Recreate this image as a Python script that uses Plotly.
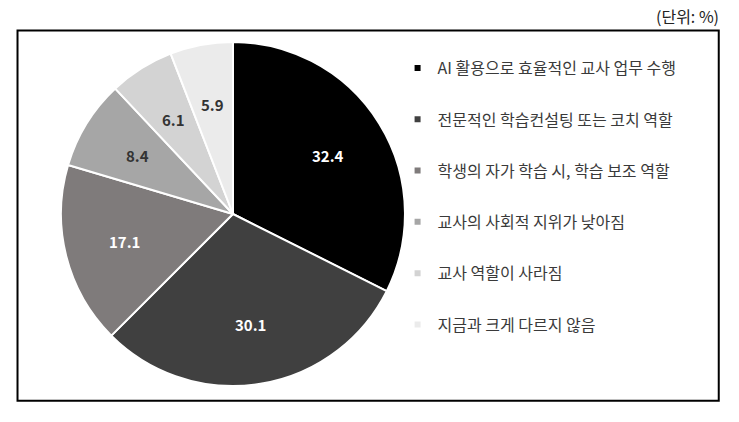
import math
import plotly.graph_objects as go

labels = [
    "AI 활용으로 효율적인 교사 업무 수행",
    "전문적인 학습컨설팅 또는 코치 역할",
    "학생의 자가 학습 시, 학습 보조 역할",
    "교사의 사회적 지위가 낮아짐",
    "교사 역할이 사라짐",
    "지금과 크게 다르지 않음",
]
values = [32.4, 30.1, 17.1, 8.4, 6.1, 5.9]
colors = ["#000000", "#404040", "#7f7b7b", "#a6a6a6", "#d3d3d3", "#ebebeb"]
text_colors = ["#ffffff", "#ffffff", "#ffffff", "#333333", "#333333", "#333333"]

W, H = 739, 422
font = "Noto Sans CJK KR"
dom_x = [0.0825, 0.548]
dom_y = [0.0853, 0.9005]

fig = go.Figure()

fig.add_trace(go.Pie(
    labels=labels,
    values=values,
    sort=False,
    direction="clockwise",
    rotation=0,
    marker=dict(colors=colors, line=dict(color="#ffffff", width=2)),
    textinfo="none",
    showlegend=False,
    hoverinfo="label+value",
    domain=dict(x=dom_x, y=dom_y),
))

# value labels placed at the middle angle of each slice, ~0.65 of the radius
cx = (dom_x[0] + dom_x[1]) / 2 * W
cy = (1 - (dom_y[0] + dom_y[1]) / 2) * H
r = min((dom_x[1] - dom_x[0]) * W, (dom_y[1] - dom_y[0]) * H) / 2
total = sum(values)
annotations = []
cum = 0
for v, tc in zip(values, text_colors):
    ang = 2 * math.pi * (cum + v / 2) / total
    cum += v
    px = cx + 0.65 * r * math.sin(ang)
    py = cy - 0.65 * r * math.cos(ang)
    annotations.append(dict(
        text="%.1f" % v, xref="paper", yref="paper",
        x=px / W, y=1 - py / H, xanchor="center", yanchor="middle",
        showarrow=False, font=dict(size=15, color=tc, family=font, weight="bold"),
    ))

annotations.append(dict(
    text="(단위: %)", xref="paper", yref="paper",
    x=0.975, y=0.995, xanchor="right", yanchor="top",
    showarrow=False, font=dict(size=16, color="#222222", family=font),
))

# legend entries (small square markers like the original)
for i in range(len(labels)):
    fig.add_trace(go.Scatter(
        x=[None], y=[None],
        mode="markers",
        name=labels[i],
        legendgroup="g%d" % i,
        marker=dict(symbol="square", size=6, color=colors[i]),
        hoverinfo="skip",
    ))

fig.update_layout(
    width=W,
    height=H,
    margin=dict(l=0, r=0, t=0, b=0),
    paper_bgcolor="white",
    plot_bgcolor="white",
    font=dict(family=font, color="#333333"),
    xaxis=dict(visible=False),
    yaxis=dict(visible=False),
    legend=dict(
        x=0.538, y=0.879, xanchor="left", yanchor="top",
        font=dict(size=16, color="#3a3a3a", family=font),
        tracegroupgap=27.5,
        itemsizing="trace",
        bgcolor="rgba(0,0,0,0)",
    ),
    shapes=[dict(
        type="rect", xref="paper", yref="paper",
        x0=0.0237, x1=0.9726, y0=0.0505, y1=0.9275,
        line=dict(color="black", width=2),
    )],
    annotations=annotations,
)

fig.write_html("out.html", config={"displayModeBar": False},
               post_script="document.body.style.margin='0';")
